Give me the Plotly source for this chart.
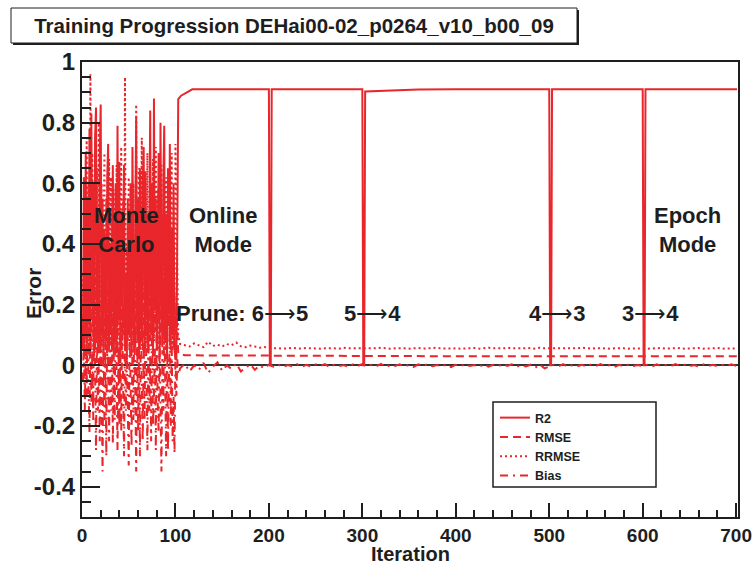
import plotly.graph_objects as go

# ---------------- data ----------------
mc_iter = list(range(1, 101))

r2_mc = [0.05, 0.62, 0.10, 0.70, 0.02, 0.55, 0.15, 0.78, 0.05, 0.83,
         0.20, 0.60, 0.03, 0.75, 0.85, 0.10, 0.50, 0.04, 0.68, 0.86,
         0.12, 0.55, 0.02, 0.45, 0.30, 0.08, 0.62, 0.73, 0.05, 0.40,
         0.10, 0.55, 0.66, 0.02, 0.35, 0.60, 0.04, 0.79, 0.15, 0.67,
         0.03, 0.50, 0.20, 0.45, 0.66, 0.05, 0.30, 0.02, 0.55, 0.10,
         0.40, 0.60, 0.03, 0.72, 0.25, 0.05, 0.45, 0.82, 0.10, 0.55,
         0.02, 0.65, 0.35, 0.08, 0.60, 0.72, 0.04, 0.64, 0.15, 0.50,
         0.05, 0.70, 0.84, 0.10, 0.60, 0.03, 0.88, 0.20, 0.55, 0.05,
         0.45, 0.70, 0.02, 0.80, 0.30, 0.06, 0.60, 0.79, 0.10, 0.50,
         0.02, 0.65, 0.20, 0.73, 0.05, 0.45, 0.10, 0.60, 0.05, 0.02]

rrmse_mc = [0.30, 0.05, 0.55, 0.20, 0.75, 0.10, 0.60, 0.02, 0.96, 0.15,
            0.70, 0.05, 0.50, 0.25, 0.08, 0.65, 0.12, 0.80, 0.04, 0.35,
            0.60, 0.05, 0.45, 0.70, 0.10, 0.55, 0.03, 0.40, 0.68, 0.08,
            0.62, 0.15, 0.05, 0.58, 0.20, 0.07, 0.66, 0.10, 0.50, 0.03,
            0.45, 0.72, 0.06, 0.55, 0.12, 0.95, 0.08, 0.40, 0.20, 0.62,
            0.05, 0.35, 0.10, 0.48, 0.60, 0.04, 0.30, 0.86, 0.10, 0.22,
            0.65, 0.05, 0.45, 0.75, 0.12, 0.30, 0.55, 0.08, 0.40, 0.70,
            0.10, 0.35, 0.05, 0.60, 0.15, 0.68, 0.08, 0.42, 0.72, 0.12,
            0.58, 0.05, 0.50, 0.20, 0.66, 0.10, 0.35, 0.04, 0.55, 0.62,
            0.08, 0.45, 0.30, 0.10, 0.52, 0.70, 0.05, 0.40, 0.15, 0.73]

rmse_mc = [0.10, 0.25, 0.05, 0.30, 0.12, 0.20, 0.04, 0.35, 0.15, 0.08,
           0.28, 0.10, 0.22, 0.05, 0.32, 0.14, 0.06, 0.27, 0.18, 0.04,
           0.30, 0.09, 0.24, 0.12, 0.05, 0.29, 0.16, 0.07, 0.33, 0.11,
           0.20, 0.05, 0.26, 0.13, 0.30, 0.08, 0.18, 0.04, 0.28, 0.15,
           0.22, 0.06, 0.31, 0.10, 0.19, 0.05, 0.27, 0.14, 0.08, 0.34,
           0.12, 0.23, 0.05, 0.29, 0.10, 0.18, 0.06, 0.25, 0.15, 0.32,
           0.07, 0.21, 0.12, 0.28, 0.05, 0.19, 0.30, 0.10, 0.24, 0.06,
           0.27, 0.13, 0.08, 0.31, 0.16, 0.05, 0.22, 0.11, 0.29, 0.07,
           0.20, 0.14, 0.33, 0.06, 0.24, 0.12, 0.28, 0.09, 0.18, 0.05,
           0.26, 0.13, 0.21, 0.08, 0.30, 0.11, 0.19, 0.06, 0.23, 0.10]

bias_mc = [-0.05, 0.10, -0.15, 0.05, -0.10, 0.20, -0.08, -0.22, 0.15, -0.12,
           0.05, -0.18, 0.25, -0.05, -0.28, 0.10, -0.15, 0.03, -0.25, 0.18,
           -0.08, -0.35, 0.12, -0.20, 0.05, -0.30, 0.20, -0.10, -0.25, 0.08,
           -0.15, 0.15, -0.26, 0.02, -0.18, 0.22, -0.12, -0.28, 0.06, -0.20,
           0.10, -0.22, 0.18, -0.08, -0.30, 0.12, -0.15, 0.04, -0.24, -0.33,
           0.15, -0.10, -0.27, 0.08, -0.18, 0.20, -0.05, -0.35, 0.10, -0.22,
           0.05, -0.30, 0.16, -0.12, -0.25, 0.08, -0.18, 0.22, -0.08, -0.28,
           0.12, -0.15, 0.03, -0.25, 0.18, -0.20, -0.10, 0.06, -0.28, 0.14,
           -0.12, -0.22, 0.10, -0.18, -0.35, 0.05, -0.15, 0.20, -0.08, -0.30,
           0.12, -0.28, -0.05, 0.15, -0.20, 0.08, -0.25, -0.10, -0.29, 0.05]

# after Monte Carlo phase
r2_post_iter = [101, 102, 103, 106, 110, 114, 118, 150, 200, 201, 202, 203,
                250, 300, 301, 302, 303, 320, 340, 360, 400, 450, 500, 501,
                502, 503, 550, 600, 601, 602, 603, 650, 701]
r2_post = [0.02, 0.60, 0.878, 0.889, 0.896, 0.903, 0.910, 0.910, 0.910, 0.0,
           0.0, 0.910, 0.910, 0.910, 0.0, 0.0, 0.903, 0.905, 0.907, 0.909,
           0.910, 0.910, 0.910, 0.0, 0.0, 0.910, 0.910, 0.910, 0.0, 0.0,
           0.910, 0.910, 0.910]

rmse_post_iter = [101, 102, 103, 110, 200, 300, 400, 500, 600, 701]
rmse_post = [0.18, 0.07, 0.04, 0.033, 0.031, 0.031, 0.030, 0.030, 0.030, 0.030]

trans_iter = [101, 102, 103]
rrmse_trans = [0.55, 0.25, 0.10]
bias_trans = [-0.10, 0.02, -0.03]

post_iter = list(range(105, 701, 5))
rrmse_post = [0.070, 0.065, 0.062, 0.072, 0.066, 0.060, 0.078, 0.064, 0.068, 0.062,
              0.070, 0.066, 0.075, 0.063, 0.060, 0.065, 0.062, 0.058, 0.060, 0.057,
              0.056, 0.057, 0.055, 0.056, 0.058, 0.056, 0.055, 0.057, 0.056, 0.056,
              0.055, 0.056, 0.057, 0.056, 0.055, 0.058, 0.056, 0.056, 0.055, 0.057,
              0.056, 0.055, 0.056, 0.058, 0.056, 0.055, 0.056, 0.057, 0.056, 0.055,
              0.056, 0.057, 0.055, 0.056, 0.056, 0.058, 0.055, 0.056, 0.057, 0.056,
              0.055, 0.056, 0.056, 0.057, 0.055, 0.056, 0.058, 0.056, 0.055, 0.056,
              0.057, 0.056, 0.055, 0.056, 0.056, 0.057, 0.055, 0.058, 0.056, 0.056,
              0.055, 0.056, 0.057, 0.056, 0.055, 0.056, 0.058, 0.056, 0.055, 0.057,
              0.056, 0.056, 0.055, 0.056, 0.057, 0.056, 0.055, 0.056, 0.057, 0.056,
              0.055, 0.056, 0.056, 0.057, 0.055, 0.056, 0.056, 0.057, 0.055, 0.056,
              0.056, 0.057, 0.055, 0.056, 0.056, 0.057, 0.055, 0.056, 0.056, 0.056]
bias_post = [-0.010, 0.005, -0.020, 0.000, -0.015, 0.008, -0.025, -0.005, 0.010, -0.018,
             0.000, -0.012, 0.006, -0.020, -0.008, 0.004, -0.015, 0.000, -0.010, 0.002,
             -0.004, 0.003, -0.006, 0.001, -0.003, 0.004, -0.005, 0.002, -0.004, 0.003,
             -0.002, 0.004, -0.006, 0.002, -0.003, 0.001, -0.005, 0.003, -0.002, 0.004,
             -0.004, 0.002, -0.003, 0.005, -0.006, 0.001, -0.002, 0.003, -0.004, 0.002,
             -0.005, 0.003, -0.002, 0.004, -0.003, 0.001, -0.004, 0.003, -0.006, 0.002,
             -0.003, 0.004, -0.002, 0.001, -0.005, 0.003, -0.004, 0.002, -0.003, 0.004,
             -0.002, 0.003, -0.005, 0.001, -0.004, 0.002, -0.008, 0.003, -0.010, -0.004,
             0.002, -0.003, 0.004, -0.005, 0.001, -0.003, 0.002, -0.004, 0.003, -0.002,
             0.004, -0.003, 0.001, -0.005, 0.002, -0.004, 0.003, -0.002, 0.001, -0.003,
             0.002, -0.004, 0.003, -0.002, 0.001, -0.003, 0.004, -0.002, 0.002, -0.003,
             0.001, -0.004, 0.003, -0.002, 0.002, -0.003, 0.001, -0.002, 0.003, -0.002]

x_ticks = [0, 100, 200, 300, 400, 500, 600, 700]
y_ticks = [-0.4, -0.2, 0, 0.2, 0.4, 0.6, 0.8, 1]
y_ticktext = ["-0.4", "-0.2", "0", "0.2", "0.4", "0.6", "0.8", "1"]

title_text = "Training Progression DEHai00-02_p0264_v10_b00_09"
x_title = "Iteration"
y_title = "Error"
ARROW = "<span style='font-weight:normal'>\u27f6</span>"
phase_labels = [("Monte<br>Carlo", 48, 0.445), ("Online<br>Mode", 151, 0.445),
                ("Epoch<br>Mode", 648, 0.445)]
prune_labels = [("Prune: 6" + ARROW + "5", 171, 0.172), ("5" + ARROW + "4", 311, 0.172),
                ("4" + ARROW + "3", 509, 0.172), ("3" + ARROW + "4", 608, 0.172)]

# ---------------- figure ----------------
RED = "#e8262b"
INK = "#1e1e1e"
FONT = "Liberation Sans"

fig = go.Figure()
fig.add_trace(go.Scatter(x=mc_iter + r2_post_iter, y=r2_mc + r2_post, mode="lines",
                         name="R2", line=dict(color=RED, width=2)))
fig.add_trace(go.Scatter(x=mc_iter + rmse_post_iter, y=rmse_mc + rmse_post, mode="lines",
                         name="RMSE", line=dict(color=RED, width=2, dash="8px,5px")))
fig.add_trace(go.Scatter(x=mc_iter + trans_iter + post_iter,
                         y=rrmse_mc + rrmse_trans + rrmse_post, mode="lines",
                         name="RRMSE", line=dict(color=RED, width=2, dash="2px,3px")))
fig.add_trace(go.Scatter(x=mc_iter + trans_iter + post_iter,
                         y=bias_mc + bias_trans + bias_post, mode="lines",
                         name="Bias", line=dict(color=RED, width=2, dash="8px,5px,2px,5px")))

L, R, T, B = 82, 738, 62, 517
W, H = 752, 567
def px(xp):
    return (xp - L) / (R - L)
def py(yp):
    return (B - yp) / (B - T)

for text, xv, yv in phase_labels + prune_labels:
    fig.add_annotation(x=xv, y=yv, xref="x", yref="y", text=text, showarrow=False,
                       font=dict(family=FONT, size=22, color=INK, weight="bold"),
                       xanchor="center", yanchor="middle")

# axis titles
fig.add_annotation(x=px(410), y=py(554), xref="paper", yref="paper", text=x_title,
                   showarrow=False, xanchor="center", yanchor="middle",
                   font=dict(family=FONT, size=20, color=INK, weight="bold"))
fig.add_annotation(x=px(33), y=py(294), xref="paper", yref="paper", text=y_title,
                   showarrow=False, xanchor="center", yanchor="middle", textangle=-90,
                   font=dict(family=FONT, size=21, color=INK, weight="bold"))

# title box with shadow
fig.add_shape(type="rect", xref="paper", yref="paper",
              x0=px(13), x1=px(579), y0=py(45), y1=py(10),
              fillcolor=INK, line=dict(width=0))
fig.add_shape(type="rect", xref="paper", yref="paper",
              x0=px(11), x1=px(577), y0=py(43), y1=py(8),
              fillcolor="white", line=dict(color=INK, width=1))
# legend box
fig.add_shape(type="rect", xref="paper", yref="paper",
              x0=px(493), x1=px(656), y0=py(487), y1=py(402),
              fillcolor="white", line=dict(color=INK, width=1.5), layer="above")

fig.update_layout(
    width=W, height=H,
    margin=dict(l=L, r=W - R, t=T, b=H - B, autoexpand=False),
    paper_bgcolor="white", plot_bgcolor="white",
    title=dict(text=title_text, x=294 / W, y=1 - 26 / H, xanchor="center", yanchor="middle",
               font=dict(family=FONT, size=20.5, color=INK, weight="bold")),
    showlegend=True,
    legend=dict(x=px(495), y=py(403), xanchor="left", yanchor="top",
                bgcolor="rgba(0,0,0,0)", borderwidth=0,
                font=dict(family=FONT, size=12.5, color=INK, weight="bold")),
    xaxis=dict(range=[0, 702], tickvals=x_ticks, ticks="inside", ticklen=14, tickwidth=1.5,
               tickcolor=INK, showline=True, linewidth=2, linecolor=INK, mirror=True,
               showgrid=False, zeroline=False, automargin=False, ticklabeloverflow="allow",
               minor=dict(dtick=20, tick0=0, ticks="inside", ticklen=7, tickwidth=1.5,
                          tickcolor=INK, showgrid=False),
               tickfont=dict(family=FONT, size=19, color=INK, weight="bold")),
    yaxis=dict(range=[-0.5, 1.0], tickvals=y_ticks, ticktext=y_ticktext, ticks="inside",
               ticklen=18, tickwidth=1.5, tickcolor=INK, showline=True, linewidth=2,
               linecolor=INK, mirror=True, showgrid=False, automargin=False,
               ticklabeloverflow="allow",
               zeroline=True, zerolinecolor="#333", zerolinewidth=1.5,
               minor=dict(dtick=0.05, tick0=0, ticks="inside", ticklen=9, tickwidth=1.5,
                          tickcolor=INK, showgrid=False),
               tickfont=dict(family=FONT, size=24, color=INK, weight="bold")),
)

fig.write_html("out.html")
